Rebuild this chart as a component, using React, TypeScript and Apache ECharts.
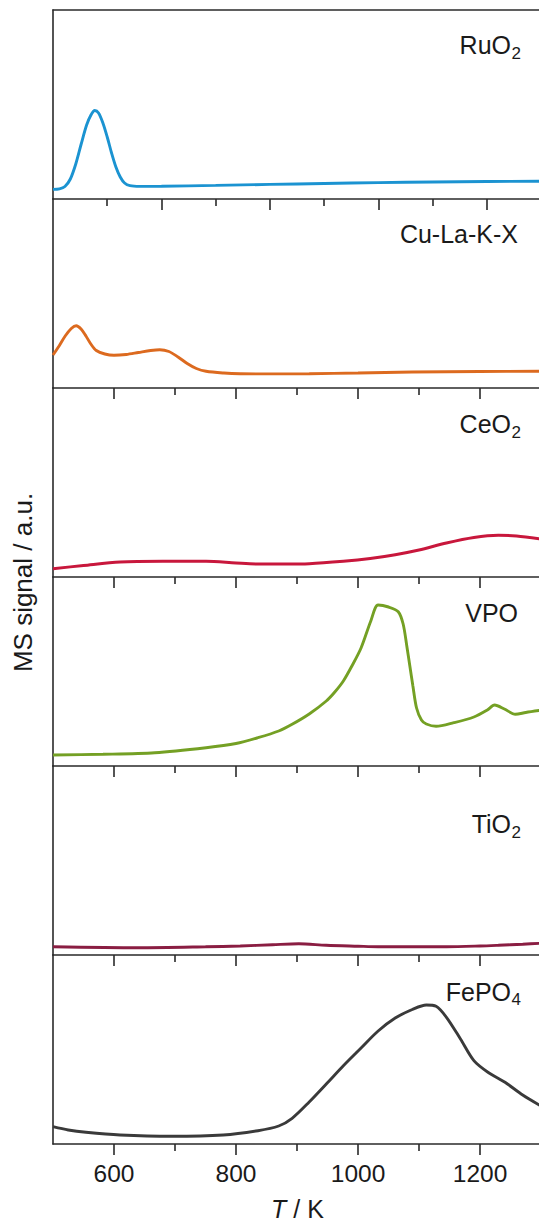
import { useEffect, useRef } from 'react';
import * as echarts from 'echarts';

// ---- data ----
const labelMain = ['RuO', 'Cu-La-K-X', 'CeO', 'VPO', 'TiO', 'FePO'];
const labelSub = ['2', '', '2', '', '2', '4'];
const majorTicks = [600, 800, 1000, 1200];
const minorTicksTop = [500, 700, 900, 1100];
const minorTicks = [700, 900, 1100];
const xTitle = 'T';
const xUnit = ' / K';
const yTitle = 'MS signal / a.u.';

const ruo2T = [400, 412, 422, 432, 442, 452, 462, 470, 477, 484, 492, 500, 508, 516, 524, 532, 542, 560, 600, 700, 800, 900, 1000, 1100, 1200, 1300];
const ruo2S = [9.6, 10.2, 12.5, 20, 35, 55, 74, 84, 88.5, 86, 76, 62, 46, 32, 22, 16, 13.3, 12.6, 12.7, 13.6, 14.6, 15.5, 16.4, 17, 17.5, 17.8];

const cuT = [500, 510, 520, 530, 538, 546, 554, 562, 571, 585, 600, 620, 640, 660, 675, 690, 705, 720, 735, 751, 780, 807, 860, 920, 1000, 1089, 1200, 1300];
const cuS = [33, 42, 52, 59.5, 62.3, 59, 52, 44, 37.5, 34, 32.7, 33.5, 35.5, 37.5, 38.3, 36.5, 31, 24.5, 19.5, 16.7, 15, 14.3, 14.1, 14.3, 15, 16, 16.5, 16.7];

const ceT = [500, 550, 610, 680, 751, 800, 836, 880, 920, 976, 1020, 1061, 1100, 1145, 1190, 1230, 1260, 1300];
const ceS = [8.3, 11.5, 15, 15.7, 15.7, 14, 13, 13, 13.3, 15.7, 18.5, 22.3, 27, 34, 39.5, 41.7, 41, 38];

const vpoT = [500, 582, 667, 751, 800, 836, 870, 892, 920, 948, 962, 976, 990, 1005, 1021, 1033, 1050, 1066, 1074, 1080, 1085, 1090, 1096, 1104, 1112, 1128, 1157, 1190, 1212, 1224, 1240, 1258, 1275, 1300];
const vpoS = [11, 11.7, 13.3, 18.3, 22.5, 28.3, 35, 41.7, 52, 65, 74, 85, 100, 118, 145, 161, 159, 154.3, 142, 120, 100, 80, 58, 46, 42, 39.7, 43.3, 49, 56, 61, 57, 51.7, 53.5, 55.7];

const tiT = [500, 640, 750, 807, 860, 903, 948, 1000, 1033, 1145, 1200, 1230, 1270, 1300];
const tiS = [8.3, 7.3, 8.2, 9, 10.3, 11.3, 9.7, 8.8, 8.3, 8.3, 9, 9.7, 10.8, 11.7];

const feT = [500, 525, 554, 610, 695, 779, 836, 870, 892, 920, 948, 976, 1005, 1033, 1061, 1089, 1112, 1128, 1145, 1168, 1190, 1213, 1241, 1270, 1300];
const feS = [17.3, 14, 11.7, 9, 7.7, 9, 13.3, 18, 25.7, 42, 60, 78.3, 96, 113, 126, 134.5, 139, 137.7, 126.7, 105, 83.3, 71.7, 61.7, 49, 38];

const seriesT = [ruo2T, cuT, ceT, vpoT, tiT, feT];
const seriesS = [ruo2S, cuS, ceS, vpoS, tiS, feS];
const colors = ['#1b93d1', '#dc6a1f', '#c8173c', '#74a024', '#8a1d42', '#3a3a3a'];
const xMins = [400, 500, 500, 500, 500, 500];

// ---- layout ----
const FONT = '"Liberation Sans", Arial, Helvetica, sans-serif';
const LEFT = 53;
const TOP = 10;
const PANEL_H = 189;
const PLOT_W = 488;
const labelOffsets = [35, 34.7, 36, 36, 58, 36.7];
const AXIS_COLOR = '#2a2a2a';

function buildOption() {
  const grid: any[] = [];
  const xAxis: any[] = [];
  const yAxis: any[] = [];
  const series: any[] = [];
  const graphic: any[] = [];

  for (let i = 0; i < 6; i++) {
    grid.push({ left: LEFT, top: TOP + PANEL_H * i, width: PLOT_W, height: PANEL_H, containLabel: false });
    xAxis.push({
      type: 'value', gridIndex: i, min: xMins[i], max: 1300, position: 'bottom',
      axisLine: { show: true, onZero: false, lineStyle: { color: AXIS_COLOR, width: 1.6 } },
      axisTick: { show: true, inside: false, length: 11, customValues: majorTicks, lineStyle: { color: AXIS_COLOR, width: 1.6 } },
      axisLabel: {
        show: i === 5, customValues: majorTicks, fontSize: 24.5, margin: 17,
        color: '#1a1a1a', fontFamily: FONT, formatter: (v: number) => String(v),
      },
      splitLine: { show: false },
    });
    xAxis.push({
      type: 'value', gridIndex: i, min: xMins[i], max: 1300, position: 'bottom',
      axisLine: { show: false, onZero: false },
      axisTick: { show: true, inside: false, length: 7, customValues: i === 0 ? minorTicksTop : minorTicks, lineStyle: { color: AXIS_COLOR, width: 1.6 } },
      axisLabel: { show: false },
      splitLine: { show: false },
    });
    yAxis.push({
      type: 'value', gridIndex: i, min: 0, max: PANEL_H,
      axisLine: { show: true, onZero: false, lineStyle: { color: AXIS_COLOR, width: 1.6 } },
      axisTick: { show: false }, axisLabel: { show: false }, splitLine: { show: false },
    });
    const data = seriesT[i].map((t, k) => [t, seriesS[i][k]]);
    series.push({
      type: 'line', xAxisIndex: 2 * i, yAxisIndex: i, data,
      smooth: 0.3, showSymbol: false, silent: true,
      lineStyle: { color: colors[i], width: 2.9 },
    });

    const cy = TOP + PANEL_H * i + labelOffsets[i];
    const hasSub = labelSub[i] !== '';
    graphic.push({
      type: 'text', x: hasSub ? 511 : 518, y: cy, silent: true,
      style: {
        text: labelMain[i], fill: '#1a1a1a', fontSize: 25, fontFamily: FONT,
        align: 'right', verticalAlign: 'middle', textAlign: 'right', textVerticalAlign: 'middle',
      },
    });
    if (hasSub) {
      graphic.push({
        type: 'text', x: 511.5, y: cy + 8, silent: true,
        style: {
          text: labelSub[i], fill: '#1a1a1a', fontSize: 17, fontFamily: FONT,
          align: 'left', verticalAlign: 'middle', textAlign: 'left', textVerticalAlign: 'middle',
        },
      });
    }
  }

  // top border of the first panel
  xAxis.push({
    type: 'value', gridIndex: 0, min: 400, max: 1300, position: 'top',
    axisLine: { show: true, onZero: false, lineStyle: { color: AXIS_COLOR, width: 1.6 } },
    axisTick: { show: false }, axisLabel: { show: false }, splitLine: { show: false },
  });

  graphic.push({
    type: 'text', x: 23, y: 582.5, rotation: Math.PI / 2, silent: true,
    style: {
      text: yTitle, fill: '#1a1a1a', fontSize: 26, fontFamily: FONT,
      align: 'center', verticalAlign: 'middle', textAlign: 'center', textVerticalAlign: 'middle',
    },
  });
  graphic.push({
    type: 'text', x: 297.5, y: 1209, silent: true,
    style: {
      text: '{i|' + xTitle + '}{n|' + xUnit + '}', fill: '#1a1a1a', fontFamily: FONT,
      align: 'center', verticalAlign: 'middle', textAlign: 'center', textVerticalAlign: 'middle',
      rich: {
        i: { fontSize: 25, fontStyle: 'italic', fontFamily: FONT, fill: '#1a1a1a' },
        n: { fontSize: 25, fontFamily: FONT, fill: '#1a1a1a' },
      },
    },
  });

  return { animation: false, backgroundColor: '#ffffff', grid, xAxis, yAxis, series, graphic };
}

export default function App() {
  const ref = useRef<HTMLDivElement>(null);
  useEffect(() => {
    if (!ref.current) return;
    const chart = echarts.init(ref.current, null, { renderer: 'svg' });
    chart.setOption(buildOption() as any);
    return () => chart.dispose();
  }, []);
  return (
    <div style={{ position: 'absolute', left: 0, top: 0, width: 539, height: 1223, overflow: 'hidden', background: '#fff' }}>
      <div ref={ref} style={{ width: 541, height: 1223 }} />
    </div>
  );
}
